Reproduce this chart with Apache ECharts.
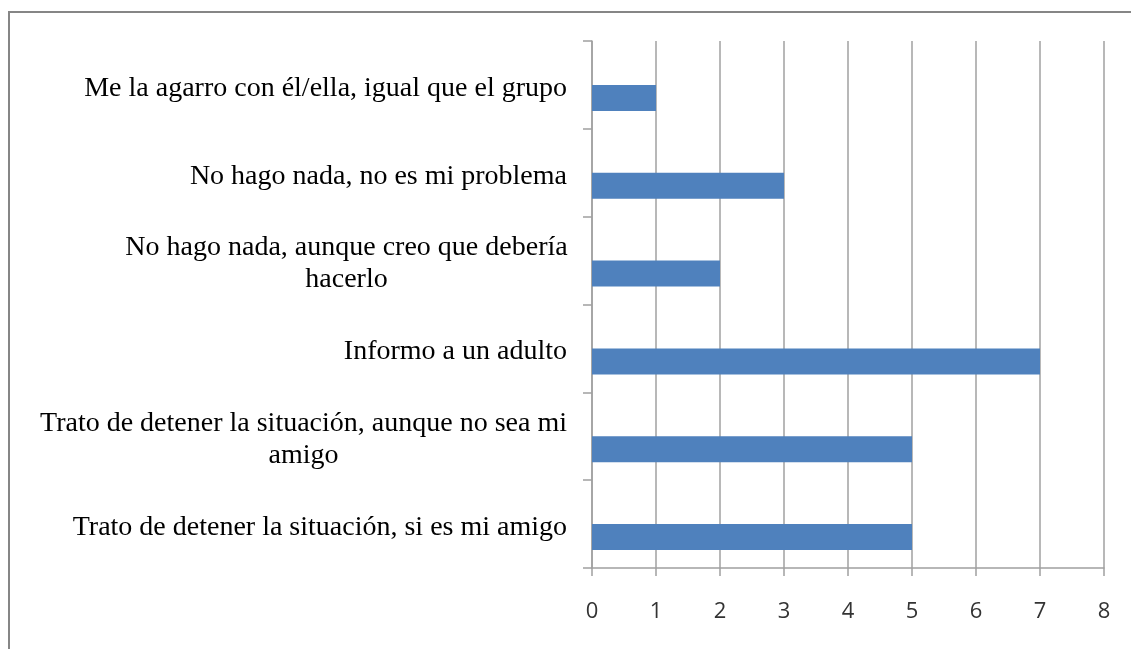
<!DOCTYPE html>
<html>
<head>
<meta charset="utf-8">
<script src="https://cdn.jsdelivr.net/npm/echarts@6/dist/echarts.min.js"></script>
<style>
  html, body { margin: 0; padding: 0; background: #fff; }
  #chart { width: 1131px; height: 649px; }
</style>
</head>
<body>
<div id="chart"></div>
<script>
// categories top to bottom
const categories = [
  'Me la agarro con él/ella, igual que el grupo',
  'No hago nada, no es mi problema',
  'No hago nada, aunque creo que debería\nhacerlo',
  'Informo a un adulto',
  'Trato de detener la situación, aunque no sea mi\namigo',
  'Trato de detener la situación, si es mi amigo'
]
const values = [1, 3, 2, 7, 5, 5]
const xTicks = [0, 1, 2, 3, 4, 5, 6, 7, 8]

const chart = echarts.init(document.getElementById('chart'))

// wrapped labels: second line centered under the first one
const labelFormatter = (v) => {
  const lines = v.split('\n')
  if (lines.length === 1) return v
  const style = lines[0].length > 40 ? 'w1' : 'w2'
  return lines.map(l => `{${style}|${l}}`).join('\n')
}

const labelFont = { fontFamily: 'Liberation Serif', fontSize: 28, lineHeight: 32, color: '#000' }

chart.setOption({
  animation: false,
  graphic: [{
    type: 'rect',
    shape: { x: 9, y: 12, width: 1140, height: 660 },
    style: { fill: 'none', stroke: '#868686', lineWidth: 2 }
  }],
  grid: { left: 592, right: 27, top: 41, bottom: 81 },
  xAxis: {
    type: 'value',
    min: xTicks[0],
    max: xTicks[xTicks.length - 1],
    interval: 1,
    axisLine: { show: true, lineStyle: { color: '#a0a0a0', width: 1.5 } },
    axisTick: { show: true, length: 8, lineStyle: { color: '#a0a0a0', width: 1.5 } },
    splitLine: { show: true, lineStyle: { color: '#a0a0a0', width: 1.5 } },
    axisLabel: {
      margin: 33,
      fontFamily: 'Open Sans',
      fontSize: 22,
      color: '#333'
    }
  },
  yAxis: {
    type: 'category',
    inverse: true,
    data: categories,
    axisLine: { show: true, lineStyle: { color: '#a0a0a0', width: 1.5 } },
    axisTick: { show: true, length: 9, lineStyle: { color: '#a0a0a0', width: 1.5 } },
    axisLabel: Object.assign({
      margin: 25,
      padding: [7, 0, 0, 0],
      formatter: labelFormatter,
      rich: {
        w1: Object.assign({ width: 527, align: 'center' }, labelFont),
        w2: Object.assign({ width: 441, align: 'center' }, labelFont)
      }
    }, labelFont)
  },
  series: [
    {
      // empty series so the bar sits in the lower half of each band
      type: 'bar',
      data: values.map(() => null),
      barWidth: 26,
      barGap: '0%'
    },
    {
      type: 'bar',
      data: values,
      barWidth: 26,
      barGap: '0%',
      itemStyle: { color: '#4F81BD' }
    }
  ]
})
</script>
</body>
</html>
